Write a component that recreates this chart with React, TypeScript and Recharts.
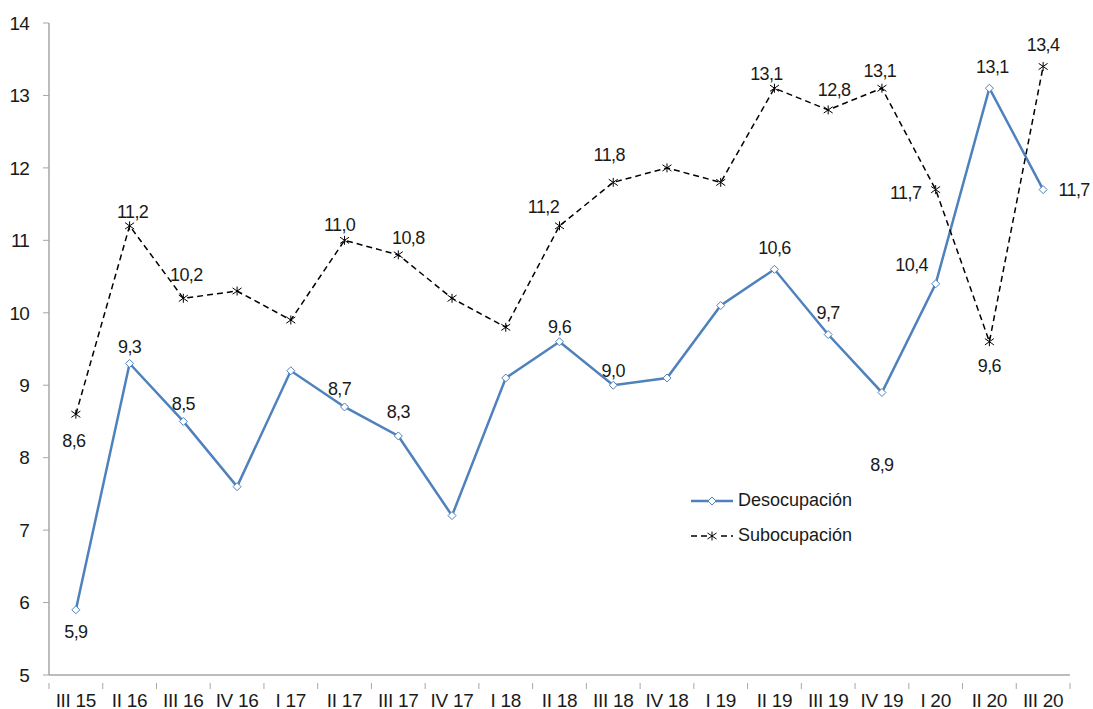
import React from 'react';
import { LineChart, Line, XAxis, YAxis, Legend } from 'recharts';

const quarters = ['III 15','II 16','III 16','IV 16','I 17','II 17','III 17','IV 17','I 18','II 18','III 18','IV 18','I 19','II 19','III 19','IV 19','I 20','II 20','III 20'];
const desocupacion = [5.9, 9.3, 8.5, 7.6, 9.2, 8.7, 8.3, 7.2, 9.1, 9.6, 9.0, 9.1, 10.1, 10.6, 9.7, 8.9, 10.4, 13.1, 11.7];
const subocupacion = [8.6, 11.2, 10.2, 10.3, 9.9, 11.0, 10.8, 10.2, 9.8, 11.2, 11.8, 12.0, 11.8, 13.1, 12.8, 13.1, 11.7, 9.6, 13.4];
const yTicks = [5, 6, 7, 8, 9, 10, 11, 12, 13, 14];

// label placement (dx, dy) relative to point; null = no label
const desocLabelOffsets: ([number, number] | null)[] = [
  [0, 22], [0, -16], [0, -17], null, null, [-5, -18], [0, -24], null, null, [0, -15],
  [0, -14], null, null, [0, -21], [0, -22], [0, 73], [-24, -19], [3, -21], [31, 0],
];
const subLabelOffsets: ([number, number] | null)[] = [
  [-2, 27], [3, -14], [3, -23], null, null, [-5, -15], [10, -17], null, null, [-16, -19],
  [-4, -27], null, null, [-8, -14], [6, -20], [-2, -17], [-30, 3], [0, 24], [0, -21],
];

const data = quarters.map((q, i) => ({ q, desoc: desocupacion[i], sub: subocupacion[i] }));

const W = 1093;
const H = 709;
const MARGIN = { top: 23, right: 23, left: 0, bottom: 0 };
const YAXIS_W = 49;
const XAXIS_H = 34;
const HALF_BAND = (W - MARGIN.left - MARGIN.right - YAXIS_W) / quarters.length / 2;

const BLUE = '#4F81BD';
const AXIS = '#A6A6A6';
const TEXT = '#1a1a1a';
const FONT = '"Liberation Sans", Arial, sans-serif';

const fmt = (v: number) => v.toFixed(1).replace('.', ',');

const XTick = (props: any) => {
  const { x, y, payload, index } = props;
  const last = index === quarters.length - 1;
  return (
    <g>
      <line x1={x - HALF_BAND} x2={x - HALF_BAND} y1={y} y2={y + 6} stroke={AXIS} strokeWidth={1} />
      {last && <line x1={x + HALF_BAND} x2={x + HALF_BAND} y1={y} y2={y + 6} stroke={AXIS} strokeWidth={1} />}
      <text x={x} y={y + 17} textAnchor="middle" dominantBaseline="central" fontSize={19} fontFamily={FONT} fill={TEXT} letterSpacing={-0.3}>
        {payload.value}
      </text>
    </g>
  );
};

const makeLabel = (offsets: ([number, number] | null)[]) => (props: any) => {
  const { x, y, index, value } = props;
  const off = offsets[index];
  if (!off || x == null || y == null) return <g key={`l-${index}`} />;
  return (
    <text key={`l-${index}`} x={x + off[0]} y={y + off[1]} textAnchor="middle" dominantBaseline="central" fontSize={18} fontFamily={FONT} fill={TEXT} letterSpacing={-0.6}>
      {fmt(value)}
    </text>
  );
};

const DiamondDot = (props: any) => {
  const { cx, cy, index } = props;
  if (cx == null || cy == null) return <g key={`d-${index}`} />;
  const r = 4;
  return (
    <path key={`d-${index}`} d={`M${cx},${cy - r}L${cx + r},${cy}L${cx},${cy + r}L${cx - r},${cy}Z`} fill="#fff" stroke={BLUE} strokeWidth={1} />
  );
};

const StarDot = (props: any) => {
  const { cx, cy, index } = props;
  if (cx == null || cy == null) return <g key={`s-${index}`} />;
  const r = 4.5;
  return (
    <g key={`s-${index}`} stroke="#000" strokeWidth={1}>
      <line x1={cx - r} y1={cy - r * 0.7} x2={cx + r} y2={cy + r * 0.7} />
      <line x1={cx - r} y1={cy + r * 0.7} x2={cx + r} y2={cy - r * 0.7} />
      <line x1={cx} y1={cy - r} x2={cx} y2={cy + r} />
    </g>
  );
};

const LegendContent = () => (
  <div style={{ fontFamily: FONT, fontSize: 18, color: TEXT }}>
    <div style={{ display: 'flex', alignItems: 'center', height: 35 }}>
      <svg width={44} height={12} style={{ marginRight: 4 }}>
        <line x1={1} x2={43} y1={6} y2={6} stroke={BLUE} strokeWidth={2.5} />
        <path d="M22,2L26,6L22,10L18,6Z" fill="#fff" stroke={BLUE} strokeWidth={1} />
      </svg>
      <span>Desocupación</span>
    </div>
    <div style={{ display: 'flex', alignItems: 'center', height: 35 }}>
      <svg width={44} height={12} style={{ marginRight: 4 }}>
        <line x1={1} x2={43} y1={6} y2={6} stroke="#000" strokeWidth={1.5} strokeDasharray="6 4" />
        <rect x={17} y={1} width={10} height={10} fill="#fff" />
        <g stroke="#000" strokeWidth={1}>
          <line x1={17.5} y1={3} x2={26.5} y2={9} />
          <line x1={17.5} y1={9} x2={26.5} y2={3} />
          <line x1={22} y1={1.5} x2={22} y2={10.5} />
        </g>
      </svg>
      <span>Subocupación</span>
    </div>
  </div>
);

export default function App() {
  return (
    <div style={{ position: 'absolute', left: 0, top: 0, width: W, height: H, background: '#fff' }}>
      <LineChart width={W} height={H} data={data} margin={MARGIN}>
        <XAxis
          dataKey="q"
          scale="band"
          height={XAXIS_H}
          interval={0}
          axisLine={{ stroke: AXIS, strokeWidth: 1.5 }}
          tickLine={false}
          tick={<XTick />}
        />
        <YAxis
          width={YAXIS_W}
          domain={[5, 14]}
          ticks={yTicks}
          interval={0}
          axisLine={{ stroke: AXIS, strokeWidth: 1.5 }}
          tickLine={{ stroke: AXIS }}
          tickSize={6}
          tickMargin={14}
          tick={{ fontSize: 19, fontFamily: FONT, fill: TEXT, letterSpacing: -0.8 }}
        />
        <Legend
          layout="vertical"
          align="center"
          verticalAlign="middle"
          content={<LegendContent />}
          wrapperStyle={{ left: 690, top: 483, width: 200 }}
        />
        <Line
          type="linear"
          dataKey="desoc"
          stroke={BLUE}
          strokeWidth={2.5}
          dot={<DiamondDot />}
          activeDot={false}
          label={makeLabel(desocLabelOffsets)}
          isAnimationActive={false}
        />
        <Line
          type="linear"
          dataKey="sub"
          stroke="#000"
          strokeWidth={1.5}
          strokeDasharray="6 4"
          dot={<StarDot />}
          activeDot={false}
          label={makeLabel(subLabelOffsets)}
          isAnimationActive={false}
        />
      </LineChart>
    </div>
  );
}
